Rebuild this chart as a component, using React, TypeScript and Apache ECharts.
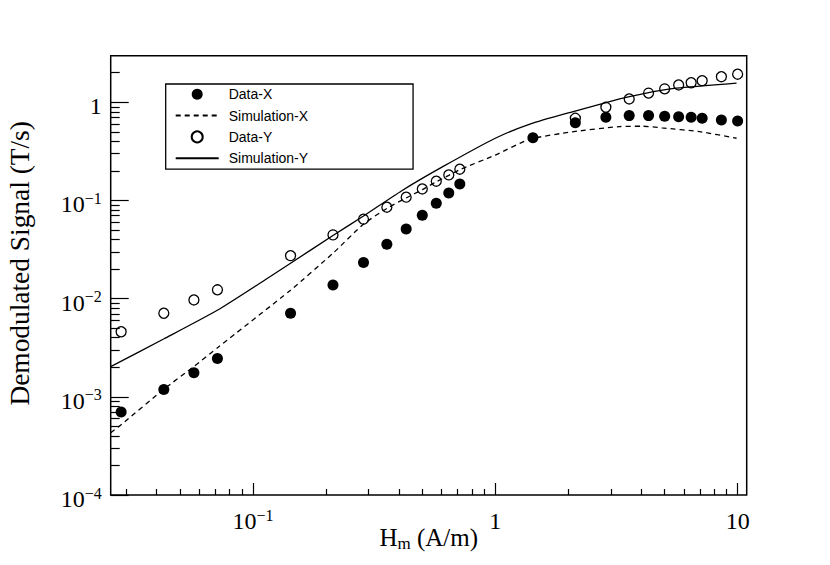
import React, { useEffect, useRef } from "react";
import * as echarts from "echarts";

// ---- data ----
const X_RANGE = [0.0259, 10.9];
const Y_RANGE = [1e-4, 2.98];

const X_MAJOR = [0.1, 1, 10];
const X_MINOR = [0.03, 0.04, 0.05, 0.06, 0.07, 0.08, 0.09, 0.2, 0.3, 0.4, 0.5, 0.6, 0.7, 0.8, 0.9, 2, 3, 4, 5, 6, 7, 8, 9];
const Y_MAJOR = [1e-4, 1e-3, 1e-2, 1e-1, 1];
const Y_MINOR = [
  2e-4, 3e-4, 4e-4, 5e-4, 6e-4, 7e-4, 8e-4, 9e-4,
  2e-3, 3e-3, 4e-3, 5e-3, 6e-3, 7e-3, 8e-3, 9e-3,
  0.02, 0.03, 0.04, 0.05, 0.06, 0.07, 0.08, 0.09,
  0.2, 0.3, 0.4, 0.5, 0.6, 0.7, 0.8, 0.9, 2,
];

const DATA_X_H = [0.0286, 0.0429, 0.0571, 0.0714, 0.143, 0.214, 0.286, 0.357, 0.429, 0.5, 0.571, 0.643, 0.714, 1.43, 2.14, 2.86, 3.57, 4.29, 5.0, 5.71, 6.43, 7.14, 8.57, 10.0];
const DATA_X_SIG = [7.0e-4, 1.19e-3, 1.76e-3, 2.45e-3, 7.1e-3, 0.0138, 0.0233, 0.0358, 0.0513, 0.0707, 0.0936, 0.119, 0.147, 0.436, 0.62, 0.703, 0.731, 0.731, 0.72, 0.713, 0.703, 0.687, 0.66, 0.645];

const DATA_Y_H = [0.0286, 0.0429, 0.0571, 0.0714, 0.143, 0.214, 0.286, 0.357, 0.429, 0.5, 0.571, 0.643, 0.714, 2.14, 2.86, 3.57, 4.29, 5.0, 5.71, 6.43, 7.14, 8.57, 10.0];
const DATA_Y_SIG = [4.6e-3, 7.1e-3, 9.7e-3, 0.0123, 0.0274, 0.0446, 0.0644, 0.0853, 0.108, 0.131, 0.157, 0.182, 0.208, 0.687, 0.889, 1.08, 1.24, 1.37, 1.5, 1.58, 1.66, 1.82, 1.93];

const SIM_X_H = [0.0259, 0.0286, 0.043, 0.0573, 0.0719, 0.143, 0.214, 0.285, 0.357, 0.429, 0.5, 0.571, 0.643, 0.714, 1.0, 1.39, 2.08, 3.26, 4.06, 4.87, 6.97, 9.9];
const SIM_X_SIG = [4.3e-4, 5.2e-4, 1.2e-3, 2.05e-3, 3.2e-3, 0.0122, 0.029, 0.057, 0.083, 0.106, 0.129, 0.155, 0.18, 0.206, 0.29, 0.42, 0.5, 0.565, 0.57, 0.548, 0.502, 0.43];

const SIM_Y_H = [0.0259, 0.043, 0.0719, 0.1175, 0.143, 0.214, 0.285, 0.41, 0.61, 1.0, 1.39, 2.08, 3.26, 4.06, 5.59, 9.9];
const SIM_Y_SIG = [2.03e-3, 3.9e-3, 7.7e-3, 0.0167, 0.0229, 0.044, 0.069, 0.125, 0.222, 0.43, 0.6, 0.8, 1.08, 1.22, 1.39, 1.57];

const SERIES_NAMES = ["Data-X", "Simulation-X", "Data-Y", "Simulation-Y"];

// ---- helpers ----
const L = (v: number) => Math.log10(v);
const pairs = (xs: number[], ys: number[]) => xs.map((x, i) => [L(x), L(ys[i])]);

const SERIF = "'Liberation Serif', 'Times New Roman', serif";
const SANS = "'Liberation Sans', Arial, sans-serif";

const powLabel = (v: number) => {
  const n = Math.round(v);
  if (n === 0) return "{b|1}";
  if (n === 1) return "{b|10}";
  return `{b|10}{s|${n < 0 ? "\u2212" + Math.abs(n) : String(n)}}`;
};

const labelRich = {
  b: { fontFamily: SERIF, fontSize: 24, lineHeight: 28, color: "#000" },
  s: { fontFamily: SERIF, fontSize: 16, color: "#000", padding: [0, 0, 12, 0] },
};

const tickLine = { color: "#000", width: 1.2 };

export default function App() {
  const ref = useRef<HTMLDivElement>(null);

  useEffect(() => {
    if (!ref.current) return;
    const chart = echarts.init(ref.current, undefined, { renderer: "svg" });

    const xMin = L(X_RANGE[0]);
    const xMax = L(X_RANGE[1]);
    const yMin = L(Y_RANGE[0]);
    const yMax = L(Y_RANGE[1]);

    const option: any = {
      animation: false,
      backgroundColor: "#fff",
      grid: {
        left: 110.7,
        right: 83.3,
        top: 55.7,
        bottom: 70,
        outerBoundsMode: "none",
        containLabel: false,
        show: true,
        borderColor: "#000",
        borderWidth: 1.5,
        backgroundColor: "transparent",
      },
      legend: {
        orient: "vertical",
        left: 165.7,
        top: 84,
        data: [
          { name: SERIES_NAMES[0] },
          { name: SERIES_NAMES[1], itemStyle: { opacity: 0 } },
          { name: SERIES_NAMES[2] },
          { name: SERIES_NAMES[3], itemStyle: { opacity: 0 } },
        ],
        selectedMode: false,
        itemWidth: 43,
        itemHeight: 11,
        itemGap: 7.3,
        padding: [3.3, 105, 4, 9],
        borderColor: "#000",
        borderWidth: 1.3,
        textStyle: { fontFamily: SANS, fontSize: 14, color: "#000", padding: [0, 0, 0, 5] },
      },
      xAxis: [
        {
          type: "value",
          min: xMin,
          max: xMax,
          position: "bottom",
          axisLine: { show: false, onZero: false },
          splitLine: { show: false },
          axisTick: { show: true, inside: true, length: 12, lineStyle: tickLine, customValues: X_MAJOR.map(L) },
          axisLabel: { customValues: X_MAJOR.map(L), formatter: powLabel, rich: labelRich, margin: 12 },
          name: "{a|H}{m|m}{a| (A/m)}",
          nameLocation: "middle",
          nameGap: 27,
          nameMoveOverlap: false,
          nameTextStyle: {
            rich: {
              a: { fontFamily: SERIF, fontSize: 25, color: "#000" },
              m: { fontFamily: SERIF, fontSize: 17, color: "#000", padding: [13, 0, 0, 0] },
            },
          },
        },
        {
          type: "value",
          min: xMin,
          max: xMax,
          position: "bottom",
          axisLine: { show: false, onZero: false },
          splitLine: { show: false },
          axisTick: { show: true, inside: true, length: 6, lineStyle: tickLine, customValues: X_MINOR.map(L) },
          axisLabel: { show: false },
        },
      ],
      yAxis: [
        {
          type: "value",
          min: yMin,
          max: yMax,
          position: "left",
          axisLine: { show: false, onZero: false },
          splitLine: { show: false },
          axisTick: { show: true, inside: true, length: 18, lineStyle: tickLine, customValues: Y_MAJOR.map(L) },
          axisLabel: { customValues: Y_MAJOR.map(L), formatter: powLabel, rich: labelRich, margin: 9, padding: [8, 0, 0, 0] },
          name: "Demodulated Signal (T/s)",
          nameLocation: "middle",
          nameGap: 77,
          nameMoveOverlap: false,
          nameTextStyle: { fontFamily: SERIF, fontSize: 27.4, color: "#000", padding: [0, 0, 0, 24] },
        },
        {
          type: "value",
          min: yMin,
          max: yMax,
          position: "left",
          axisLine: { show: false, onZero: false },
          splitLine: { show: false },
          axisTick: { show: true, inside: true, length: 9, lineStyle: tickLine, customValues: Y_MINOR.map(L) },
          axisLabel: { show: false },
        },
      ],
      series: [
        {
          name: "Data-X",
          type: "scatter",
          xAxisIndex: 0,
          yAxisIndex: 0,
          symbol: "circle",
          symbolSize: 11,
          itemStyle: { color: "#000", opacity: 1 },
          data: pairs(DATA_X_H, DATA_X_SIG),
          z: 4,
        },
        {
          name: "Simulation-X",
          type: "line",
          xAxisIndex: 0,
          yAxisIndex: 0,
          symbol: "none",
          showSymbol: false,
          smooth: 0.2,
          lineStyle: { color: "#000", width: 1.3, type: [5, 4] },
          itemStyle: { color: "#000" },
          data: pairs(SIM_X_H, SIM_X_SIG),
          z: 3,
        },
        {
          name: "Data-Y",
          type: "scatter",
          xAxisIndex: 0,
          yAxisIndex: 0,
          symbol: "circle",
          symbolSize: 10,
          itemStyle: { color: "rgba(255,255,255,0)", borderColor: "#000", borderWidth: 1.3, opacity: 1 },
          data: pairs(DATA_Y_H, DATA_Y_SIG),
          z: 4,
        },
        {
          name: "Simulation-Y",
          type: "line",
          xAxisIndex: 0,
          yAxisIndex: 0,
          symbol: "none",
          showSymbol: false,
          smooth: 0.2,
          lineStyle: { color: "#000", width: 1.3, type: "solid" },
          itemStyle: { color: "#000" },
          data: pairs(SIM_Y_H, SIM_Y_SIG),
          z: 3,
        },
      ],
    };

    chart.setOption(option);
    return () => chart.dispose();
  }, []);

  return (
    <div
      ref={ref}
      style={{ position: "absolute", left: 0, top: 0, width: 830, height: 565, background: "#fff" }}
    />
  );
}
